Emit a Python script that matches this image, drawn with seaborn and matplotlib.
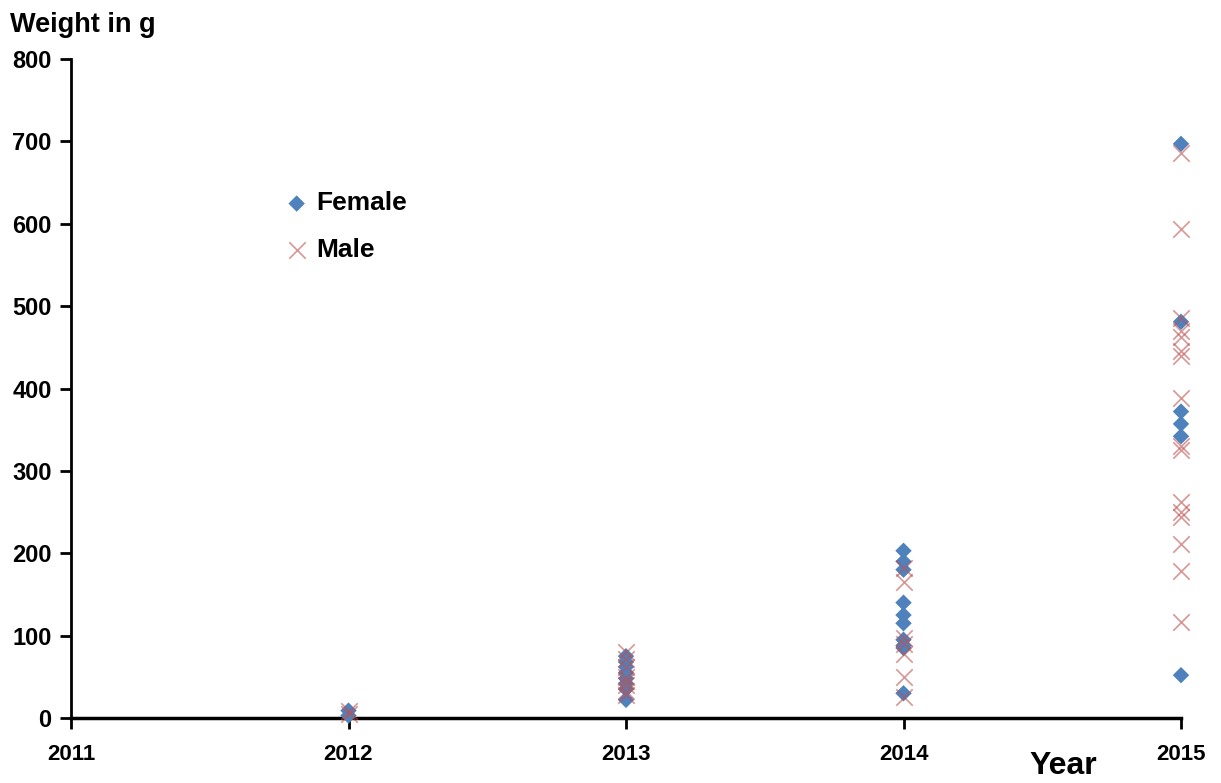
import numpy as np
import pandas as pd
import matplotlib
matplotlib.use("Agg")
import matplotlib.pyplot as plt
import seaborn as sns

# ---- data ----
female_2012 = [3, 9]
male_2012 = [8, 5]
female_2013 = [22, 35, 42, 48, 55, 62, 68, 75]
male_2013 = [80, 72, 62, 50, 45, 40, 33, 28]
female_2014 = [203, 190, 180, 140, 125, 115, 95, 88, 85, 30]
male_2014 = [182, 165, 97, 90, 78, 50, 25]
female_2015 = [697, 481, 372, 357, 342, 52]
male_2015 = [686, 594, 485, 470, 462, 445, 440, 388, 330, 325, 262, 250, 244, 211, 178, 117]

x_ticks = [2011, 2012, 2013, 2014, 2015]
y_ticks = [0, 100, 200, 300, 400, 500, 600, 700, 800]

rows = []
for yr, f, m in [(2012, female_2012, male_2012), (2013, female_2013, male_2013),
                 (2014, female_2014, male_2014), (2015, female_2015, male_2015)]:
    rows += [(yr, v, "Female") for v in f]
    rows += [(yr, v, "Male") for v in m]
df = pd.DataFrame(rows, columns=["Year", "Weight", "Sex"])

sns.set_style("white")
plt.rcParams["font.family"] = ["Liberation Sans", "DejaVu Sans"]
plt.rcParams["font.weight"] = "bold"
plt.rcParams["text.color"] = "black"
plt.rcParams["xtick.color"] = "black"
plt.rcParams["ytick.color"] = "black"

fig = plt.figure(figsize=(12.21, 7.83), dpi=100)
ax = fig.add_axes([71/1221, 1-718/783, 1110/1221, (718-59)/783])

palette = {"Female": "#4F81BD", "Male": "#C0504D"}

sns.scatterplot(data=df[df.Sex == "Female"], x="Year", y="Weight", color=palette["Female"],
                marker="D", s=70, edgecolor="none", ax=ax, label="Female", clip_on=False, zorder=3)
sns.scatterplot(data=df[df.Sex == "Male"], x="Year", y="Weight", color=palette["Male"],
                marker="x", s=140, linewidth=1.2, alpha=0.6, ax=ax, label="Male", clip_on=False, zorder=4)

ax.set_xlim(2011, 2015)
ax.set_ylim(0, 800)
ax.set_xticks(x_ticks)
ax.set_yticks(y_ticks)
ax.set_xticklabels([str(t) for t in x_ticks], fontsize=16, fontweight="bold", color="black")
ax.set_yticklabels([str(t) for t in y_ticks], fontsize=17, fontweight="bold", color="black")
ax.set_xlabel("")
ax.set_ylabel("")

for s in ["top", "right"]:
    ax.spines[s].set_visible(False)
ax.spines["left"].set_linewidth(2)
ax.spines["bottom"].set_linewidth(2.5)
ax.spines["left"].set_color("black")
ax.spines["bottom"].set_color("black")
ax.tick_params(axis="both", direction="out", length=8, width=2, color="black", left=True, bottom=True)
ax.tick_params(axis="x", pad=11)
ax.tick_params(axis="y", pad=6)

leg = ax.legend(loc="upper left", bbox_to_anchor=(0.17, 0.835), frameon=False,
                prop={"size": 19, "weight": "bold"}, handletextpad=0.25, labelspacing=0.85,
                handlelength=1.0, markerscale=1.0)
for t in leg.get_texts():
    t.set_color("black")

fig.text(10/1221, 1-25/783, "Weight in g", fontsize=19.5, fontweight="bold", color="black",
         va="center", ha="left")
fig.text(1063/1221, 1-766/783, "Year", fontsize=23, fontweight="bold", color="black",
         va="center", ha="center")

fig.savefig("out.png", dpi=100)
